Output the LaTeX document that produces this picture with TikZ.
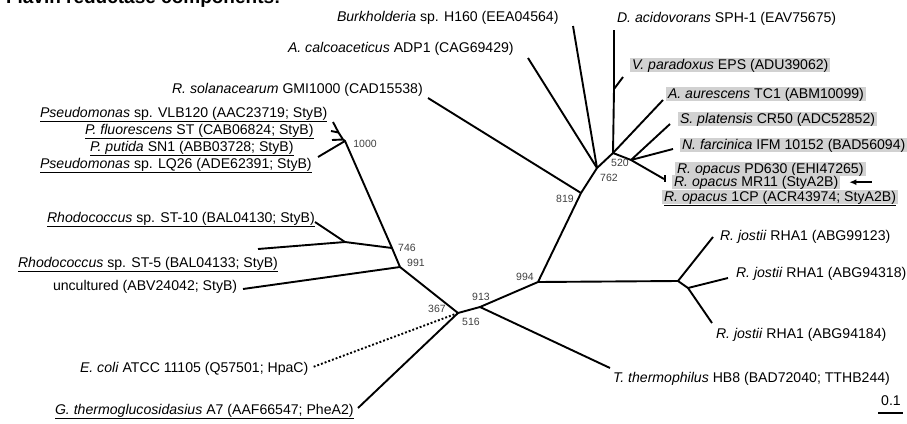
\documentclass[tikz,border=0pt]{standalone}
\usepackage{fontspec}
\setmainfont{Liberation Sans}
\usetikzlibrary{arrows.meta}
\begin{document}
\begin{tikzpicture}[x=1pt,y=-1pt,inner sep=0pt,outer sep=0pt,line width=1.9pt,line join=round,>={Latex[length=7pt,width=6pt]},
taxon/.style={anchor=base west,font=\fontsize{14.1}{16}\selectfont},
hilite/.style={taxon,fill=black!18,inner xsep=2pt,inner ysep=0.6pt,text height=10.2pt,text depth=2.6pt},
boot/.style={font=\fontsize{10.5}{12}\selectfont,text=black!75}]

\useasboundingbox (0,0) rectangle (907,423);

\draw (6,3) node[anchor=base west,font=\bfseries\fontsize{19}{22}\selectfont] (title) {Flavin reductase components:};

% labels, left side
\draw (40,117) node[taxon] (vlb) {\underline{\textit{Pseudomonas} sp. VLB120 (AAC23719; StyB)}};
\draw (85,134) node[taxon] (pfl) {\underline{\textit{P. fluorescens} ST (CAB06824; StyB)}};
\draw (90,151) node[taxon] (ppu) {\underline{\textit{P. putida} SN1 (ABB03728; StyB)}};
\draw (40,168) node[taxon] (lq) {\underline{\textit{Pseudomonas} sp. LQ26 (ADE62391; StyB)}};
\draw (47,222) node[taxon] (st10) {\underline{\textit{Rhodococcus} sp. ST-10 (BAL04130; StyB)}};
\draw (18,267) node[taxon] (st5) {\underline{\textit{Rhodococcus} sp. ST-5 (BAL04133; StyB)}};
\draw (53,290) node[taxon] (unc) {uncultured (ABV24042; StyB)};
\draw (80,372) node[taxon] (eco) {\textit{E. coli} ATCC 11105 (Q57501; HpaC)};
\draw (55,414) node[taxon] (gth) {\underline{\textit{G. thermoglucosidasius} A7 (AAF66547; PheA2)}};
\draw (172,93) node[taxon] (rso) {\textit{R. solanacearum} GMI1000 (CAD15538)};
\draw (288,52) node[taxon] (aca) {\textit{A. calcoaceticus} ADP1 (CAG69429)};
\draw (337,21) node[taxon] (bur) {\textit{Burkholderia} sp. H160 (EEA04564)};

% labels, right side
\draw (617,22) node[taxon] (dac) {\textit{D. acidovorans} SPH-1 (EAV75675)};
\draw (630,69) node[hilite] (vpa) {\textit{V. paradoxus} EPS (ADU39062)};
\draw (666,98) node[hilite] (aau) {\textit{A. aurescens} TC1 (ABM10099)};
\draw (678,123) node[hilite] (spl) {\textit{S. platensis} CR50 (ADC52852)};
\draw (680,149) node[hilite] (nfa) {\textit{N. farcinica} IFM 10152 (BAD56094)};
\draw (675,173) node[hilite] (pd630) {\textit{R. opacus} PD630 (EHI47265)};
\draw (672,186) node[hilite] (mr11) {\textit{R. opacus} MR11 (StyA2B)};
\draw (662,201) node[hilite] (cp1) {\underline{\textit{R. opacus} 1CP (ACR43974; StyA2B)}};
\draw (720,240) node[taxon] (rj1) {\textit{R. jostii} RHA1 (ABG99123)};
\draw (736,277) node[taxon] (rj2) {\textit{R. jostii} RHA1 (ABG94318)};
\draw (716,338) node[taxon] (rj3) {\textit{R. jostii} RHA1 (ABG94184)};
\draw (613,382) node[taxon] (tth) {\textit{T. thermophilus} HB8 (BAD72040; TTHB244)};

% branch points and tips
\coordinate (n1000) at (345,141);
\coordinate (tvlb) at (333,122);
\coordinate (jpfl) at (338.5,132.5);
\coordinate (tpfl) at (331,131);
\coordinate (jppu) at (343,139.5);
\coordinate (tppu) at (332,140);
\coordinate (tlq) at (318,157);
\coordinate (n746) at (392,248);
\coordinate (nrh) at (345,242);
\coordinate (tst10) at (315,222);
\coordinate (tst5) at (258,249);
\coordinate (n991) at (400,267);
\coordinate (tunc) at (243,289);
\coordinate (n367) at (458,313);
\coordinate (teco) at (313,367);
\coordinate (tgth) at (358,408);
\coordinate (n913) at (480,307);
\coordinate (ttth) at (610,368);
\coordinate (n994) at (538,282);
\coordinate (nrj) at (678,281);
\coordinate (trj1) at (713,237);
\coordinate (nrj2) at (688,288);
\coordinate (trj2) at (728,278);
\coordinate (trj3) at (712,323);
\coordinate (n819) at (581,193);
\coordinate (trso) at (428,98);
\coordinate (n762) at (597,168);
\coordinate (taca) at (528,58);
\coordinate (tbur) at (573,26);
\coordinate (n520) at (613,153);
\coordinate (jvpa) at (614,89);
\coordinate (tvpa) at (623,77);
\coordinate (tdac) at (614,30);
\coordinate (taau) at (663,100);
\coordinate (nsub) at (631,160);
\coordinate (tspl) at (670,124);
\coordinate (tnfa) at (673,149);
\coordinate (trop) at (664,179);
\coordinate (tropa) at (665,175);
\coordinate (tropb) at (665,182);

% tree
\draw (tvlb) -- (jpfl) -- (jppu) -- (n1000) -- (n746) -- (n991) -- (n367) -- (n913) -- (n994) -- (n819) -- (n762) -- (n520) -- (jvpa) -- (tdac);
\draw (jpfl) -- (tpfl);
\draw (jppu) -- (tppu);
\draw (n1000) -- (tlq);
\draw (n746) -- (nrh) -- (tst10);
\draw (nrh) -- (tst5);
\draw (n991) -- (tunc);
\draw[dash pattern=on 1.9pt off 2pt] (n367) -- (teco);
\draw (n367) -- (tgth);
\draw (n913) -- (ttth);
\draw (n994) -- (nrj) -- (trj1);
\draw (nrj) -- (nrj2) -- (trj2);
\draw (nrj2) -- (trj3);
\draw (n819) -- (trso);
\draw (n762) -- (taca);
\draw (n762) -- (tbur);
\draw (jvpa) -- (tvpa);
\draw (n520) -- (taau);
\draw (n520) -- (nsub) -- (tspl);
\draw (nsub) -- (tnfa);
\draw (nsub) -- (trop);
\draw (tropa) -- (tropb);

% bootstrap values
\draw (365,144) node[boot] (b1000) {1000};
\draw (407,248) node[boot] (b746) {746};
\draw (416,263) node[boot] (b991) {991};
\draw (437,309) node[boot] (b367) {367};
\draw (471,322) node[boot] (b516) {516};
\draw (481,297) node[boot] (b913) {913};
\draw (525,277) node[boot] (b994) {994};
\draw (565,199) node[boot] (b819) {819};
\draw (609,178) node[boot] (b762) {762};
\draw (620,163) node[boot] (b520) {520};

\draw[<-,line width=1.6pt] ([xshift=9pt]mr11.east) -- ++(23,0);

% scale bar
\draw (891,401) node[font=\fontsize{14.1}{16}\selectfont] (sc) {0.1};
\draw (878,413) coordinate (sca) -- (903,413) coordinate (scb);
\end{tikzpicture}
\end{document}
